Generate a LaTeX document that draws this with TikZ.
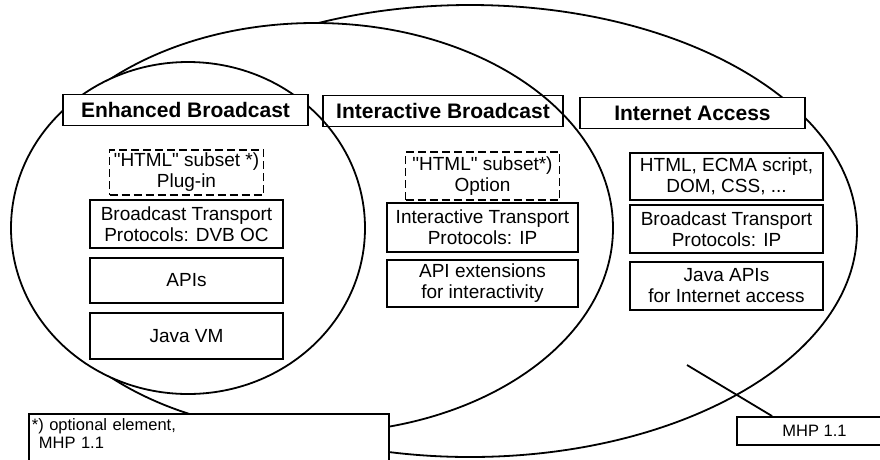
\documentclass[tikz,border=0pt]{standalone}
\usepackage{fontspec}
\setmainfont{Liberation Sans}[Ligatures=TeXOff]
\usetikzlibrary{positioning, calc}

\begin{document}
\begin{tikzpicture}[x=1pt, y=-1pt, line width=1.8pt,
    ring/.style={draw, fill=white},
    title/.style={draw, fill=white, inner sep=0pt, minimum height=31pt, font=\fontsize{21}{23}\selectfont\bfseries},
    layer/.style={draw, fill=white, inner sep=0pt, align=center, minimum width=193pt, minimum height=47pt, font=\fontsize{19}{21}\selectfont},
    option/.style={layer, dash pattern=on 8pt off 4pt, minimum width=154pt},
    remark/.style={draw, fill=white, inner sep=0pt, font=\fontsize{16.5}{17.5}\selectfont}]
    \useasboundingbox (0,0) rectangle (880,459);

    % 楕円 (外側から順に)
    \draw[ring] (470,231) ellipse[x radius=387pt, y radius=226pt];
    \draw[ring] (315,228) ellipse[x radius=298pt, y radius=205pt];
    \draw[ring] (188,228) ellipse[x radius=177pt, y radius=166pt];

    % 見出し
    \node[title, minimum width=245pt] (eb) at (185.5,110) {Enhanced Broadcast};
    \node[title, minimum width=240pt, fill=none] (ib) at (443,111) {Interactive Broadcast};
    \node[title, minimum width=225pt] (ia) at (692.5,113) {Internet Access};

    % Enhanced Broadcast の層
    \node[option, minimum height=45pt] (ehtml) at (186.5,172.5) {"HTML" subset *)\\Plug-in};
    \node[layer, minimum height=48pt] (ebtp) at (186.5,224) {Broadcast Transport\\Protocols: DVB OC};
    \node[layer, minimum height=45pt] (eapi) at (186.5,280.5) {APIs};
    \node[layer, minimum height=46pt] (ejvm) at (186.5,336) {Java VM};

    % Interactive Broadcast の層
    \node[option, minimum height=48pt] (ihtml) at (482.5,176) {"HTML" subset*)\\Option};
    \node[layer, minimum width=191pt, minimum height=49pt] (itp) at (482.5,227.5) {Interactive Transport\\Protocols: IP};
    \node[layer, minimum width=191pt] (iapi) at (482.5,283.5) {API extensions\\for interactivity};

    % Internet Access の層
    \node[layer] (nhtml) at (726.5,176.5) {HTML, ECMA script,\\DOM, CSS, ...};
    \node[layer, minimum height=48pt] (nbtp) at (726.5,229) {Broadcast Transport\\Protocols: IP};
    \node[layer, minimum height=48pt] (njava) at (726.5,286) {Java APIs\\for Internet access};

    % 注記
    \node[remark, anchor=north west, text width=354pt, inner xsep=3pt, inner ysep=5pt, align=left] (note) at (28,413) {*) optional element,\\\hspace*{7pt}MHP 1.1\\\mbox{}};
    \node[remark, minimum width=155pt, minimum height=28pt] (mhp) at (814.5,431) {MHP 1.1};

    % 引き出し線
    \coordinate (mhptip) at (687,365);
    \draw (mhptip) -- ([xshift=36pt]mhp.north west);
\end{tikzpicture}
\end{document}
